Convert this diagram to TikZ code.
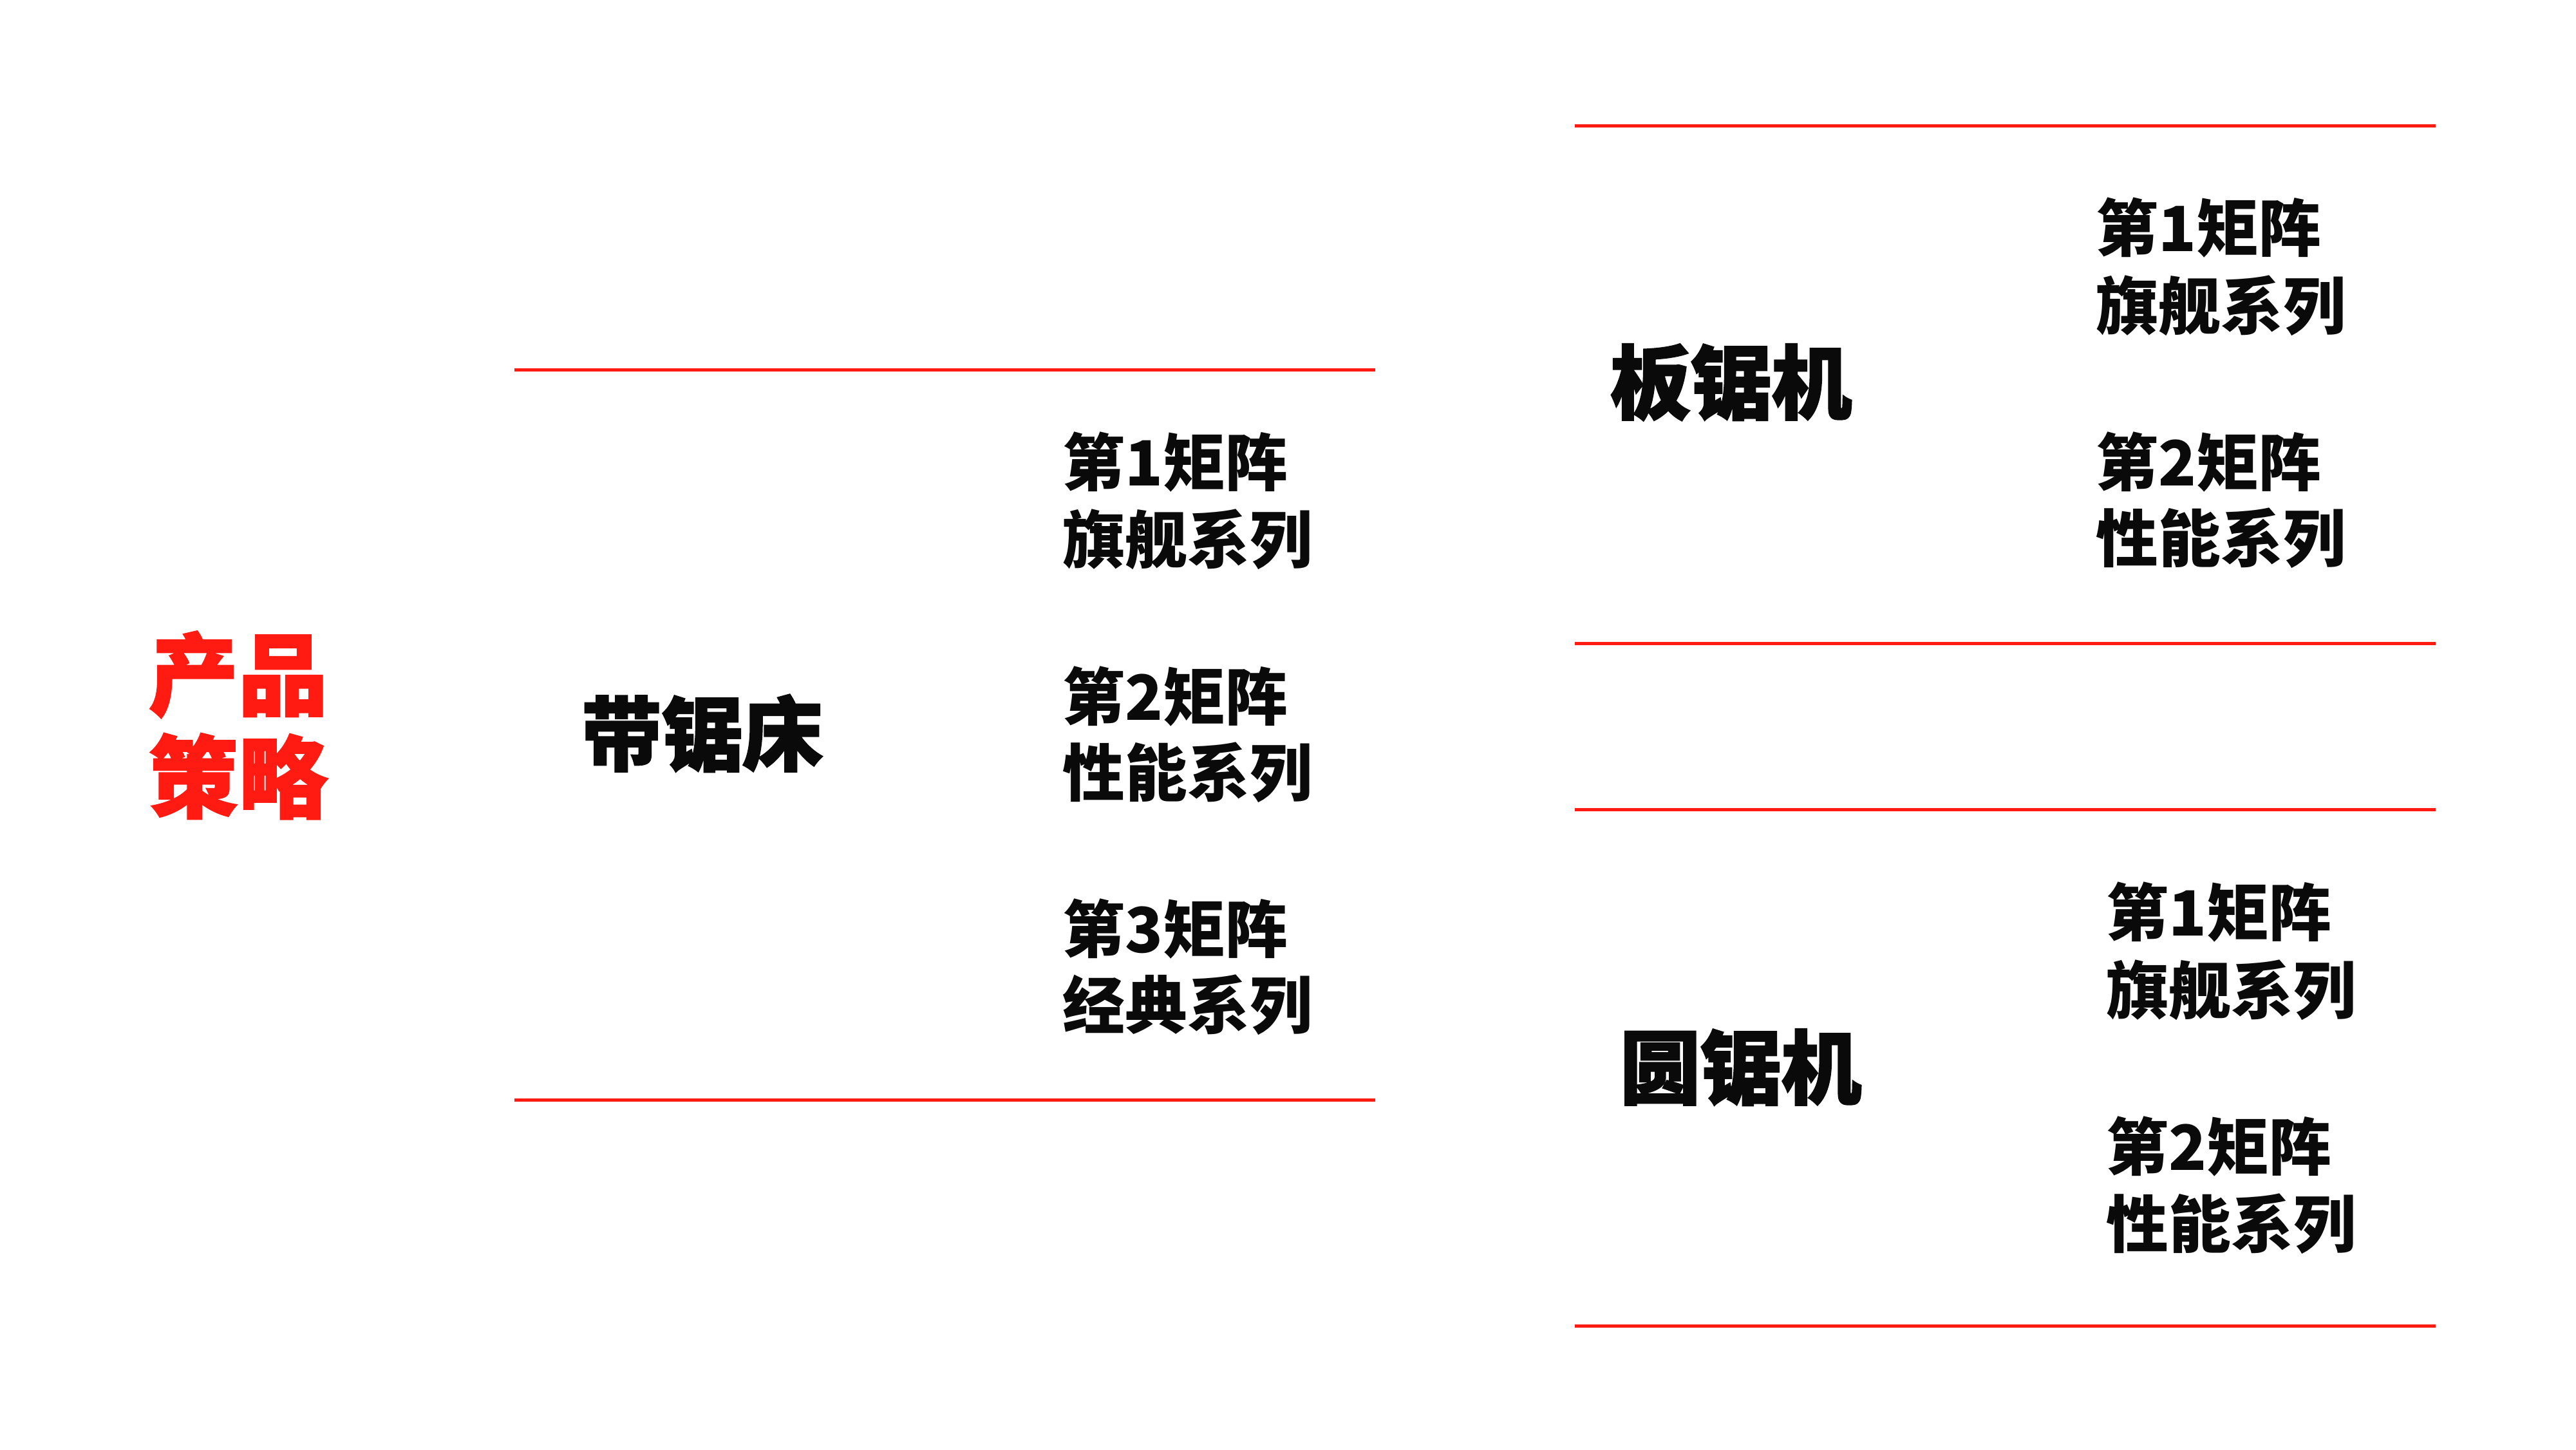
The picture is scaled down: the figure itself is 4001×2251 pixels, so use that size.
\documentclass[tikz,border=0pt]{standalone}
\usepackage{fontspec}
\newfontfamily\cjk{Noto Sans CJK SC}
\newfontfamily\cjkheavy{Noto Sans CJK SC}[BoldFeatures={FakeBold=1.6}]
\definecolor{accent}{RGB}{255,26,18}
\definecolor{ink}{RGB}{10,10,10}
\begin{document}
\begin{tikzpicture}[x=0.25pt,y=-0.25pt,
  rule/.style={draw=accent,line width=1.25pt},
  itemtxt/.style={anchor=base west,inner sep=0,text=ink,font=\cjk\bfseries\fontsize{24.2pt}{24.2pt}\selectfont},
  headtxt/.style={anchor=base west,inner sep=0,text=ink,font=\cjkheavy\bfseries\fontsize{31.3pt}{31.3pt}\selectfont},
  titletxt/.style={anchor=base west,inner sep=0,text=accent,font=\cjkheavy\bfseries\fontsize{34.8pt}{34.8pt}\selectfont}]
\useasboundingbox[fill=white] (0,0) rectangle (4001,2251);
% rules
\coordinate (m1a) at (799,574);  \coordinate (m1b) at (2136,574);
\coordinate (m2a) at (799,1708); \coordinate (m2b) at (2136,1708);
\coordinate (r1a) at (2446,195); \coordinate (r1b) at (3783,195);
\coordinate (r2a) at (2446,999); \coordinate (r2b) at (3783,999);
\coordinate (r3a) at (2446,1257); \coordinate (r3b) at (3783,1257);
\coordinate (r4a) at (2446,2059); \coordinate (r4b) at (3783,2059);
\draw[rule] (m1a) -- (m1b);
\draw[rule] (m2a) -- (m2b);
\draw[rule] (r1a) -- (r1b);
\draw[rule] (r2a) -- (r2b);
\draw[rule] (r3a) -- (r3b);
\draw[rule] (r4a) -- (r4b);
% title
\node[titletxt] (t1) at (230,1100) {产品};
\node[titletxt] (t2) at (230,1259) {策略};
% heads
\node[headtxt] (h1) at (902,1187) {带锯床};
\node[headtxt] (h2) at (2500,641) {板锯机};
\node[headtxt] (h3) at (2515,1705) {圆锯机};
% middle list
\node[itemtxt] (a1) at (1650,754) {第1矩阵};
\node[itemtxt] (a2) at (1650,874) {旗舰系列};
\node[itemtxt] (a3) at (1650,1118) {第2矩阵};
\node[itemtxt] (a4) at (1650,1236) {性能系列};
\node[itemtxt] (a5) at (1650,1479) {第3矩阵};
\node[itemtxt] (a6) at (1650,1597) {经典系列};
% right top list
\node[itemtxt] (b1) at (3255,390) {第1矩阵};
\node[itemtxt] (b2) at (3255,511) {旗舰系列};
\node[itemtxt] (b3) at (3255,754) {第2矩阵};
\node[itemtxt] (b4) at (3255,872) {性能系列};
% right bottom list
\node[itemtxt] (c1) at (3271,1453) {第1矩阵};
\node[itemtxt] (c2) at (3271,1574) {旗舰系列};
\node[itemtxt] (c3) at (3271,1817) {第2矩阵};
\node[itemtxt] (c4) at (3271,1937) {性能系列};
\end{tikzpicture}
\end{document}
